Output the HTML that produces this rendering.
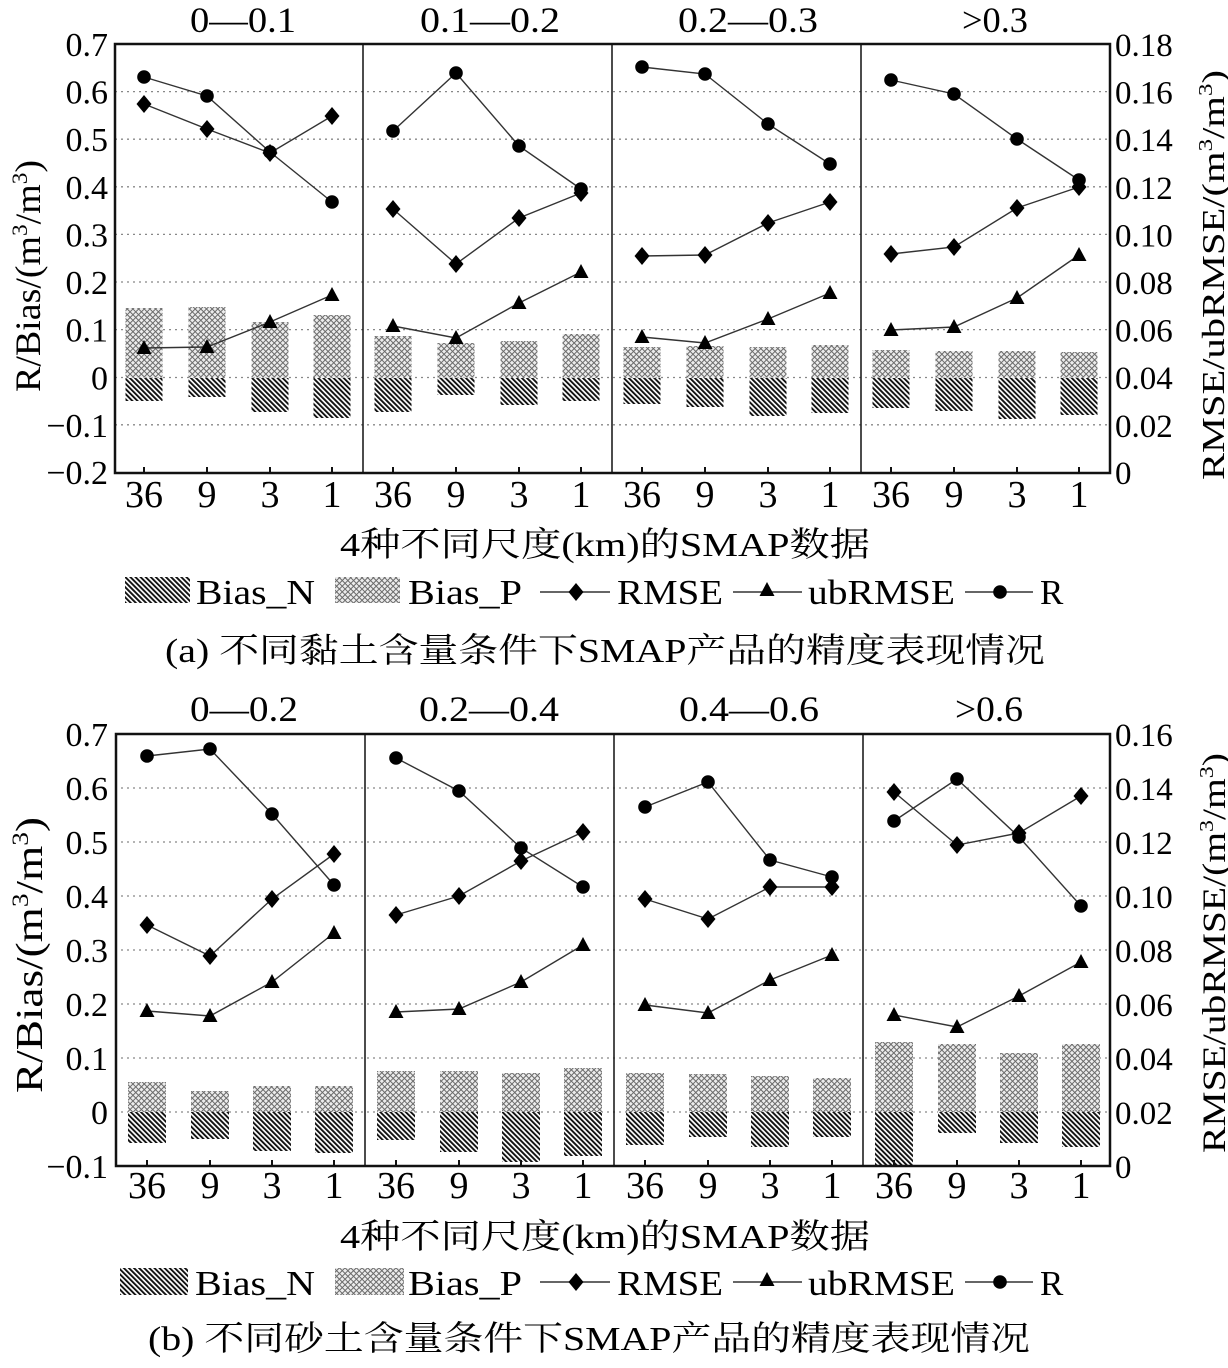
<!DOCTYPE html>
<html><head><meta charset="utf-8"><style>
html,body{margin:0;padding:0;background:#fff;}
svg{display:block;font-family:"Liberation Serif","Noto Serif CJK SC",serif;}
</style></head><body>
<svg width="1228" height="1368" viewBox="0 0 1228 1368" xmlns="http://www.w3.org/2000/svg">
<defs>
<pattern id="pn" width="3.6" height="3.6" patternUnits="userSpaceOnUse" patternTransform="rotate(-45)"><rect width="3.6" height="3.6" fill="#fff"/><rect width="1.9" height="3.6" fill="#111"/></pattern>
<pattern id="pp" width="4" height="4" patternUnits="userSpaceOnUse" patternTransform="rotate(45)"><rect width="4" height="4" fill="#ececec"/><path d="M0,0.5H4M0.5,0V4" stroke="#6a6a6a" stroke-width="1"/></pattern>
<path id="d" d="M0,-9 L7.5,0 L0,9 L-7.5,0Z"/>
<path id="t" d="M0,-8 L7.5,6 L-7.5,6Z"/>
<circle id="c" r="6.8"/>
</defs>

<!-- ================= TOP CHART ================= -->
<g font-size="36" text-anchor="middle">
<text x="243" y="32" textLength="106" lengthAdjust="spacingAndGlyphs">0—0.1</text>
<text x="490" y="32" textLength="140" lengthAdjust="spacingAndGlyphs">0.1—0.2</text>
<text x="748" y="32" textLength="140" lengthAdjust="spacingAndGlyphs">0.2—0.3</text>
<text x="995" y="32" textLength="66" lengthAdjust="spacingAndGlyphs">&gt;0.3</text>
</g>
<g stroke="#888" stroke-width="1.3" stroke-dasharray="2,4">
<line x1="115" x2="1110" y1="91.6" y2="91.6"/><line x1="115" x2="1110" y1="139.2" y2="139.2"/>
<line x1="115" x2="1110" y1="186.8" y2="186.8"/><line x1="115" x2="1110" y1="234.4" y2="234.4"/>
<line x1="115" x2="1110" y1="282" y2="282"/><line x1="115" x2="1110" y1="329.6" y2="329.6"/>
<line x1="115" x2="1110" y1="377.5" y2="377.5"/><line x1="115" x2="1110" y1="424.8" y2="424.8"/>
</g>
<g fill="url(#pp)">
<rect x="125.5" y="308" width="37" height="69.5"/><rect x="188.5" y="307" width="37" height="70.5"/><rect x="251.5" y="322" width="37" height="55.5"/><rect x="313.5" y="315" width="37" height="62.5"/>
<rect x="374.5" y="336" width="37" height="41.5"/><rect x="437.5" y="343" width="37" height="34.5"/><rect x="500.5" y="341" width="37" height="36.5"/><rect x="562.5" y="334" width="37" height="43.5"/>
<rect x="623.5" y="347" width="37" height="30.5"/><rect x="686.5" y="346" width="37" height="31.5"/><rect x="749.5" y="347" width="37" height="30.5"/><rect x="811.5" y="345" width="37" height="32.5"/>
<rect x="872.5" y="350" width="37" height="27.5"/><rect x="935.5" y="351" width="37" height="26.5"/><rect x="998.5" y="351" width="37" height="26.5"/><rect x="1060.5" y="352" width="37" height="25.5"/>
</g>
<g fill="url(#pn)">
<rect x="125.5" y="378" width="37" height="23"/><rect x="188.5" y="378" width="37" height="19"/><rect x="251.5" y="378" width="37" height="34"/><rect x="313.5" y="378" width="37" height="40"/>
<rect x="374.5" y="378" width="37" height="34"/><rect x="437.5" y="378" width="37" height="17"/><rect x="500.5" y="378" width="37" height="27"/><rect x="562.5" y="378" width="37" height="23"/>
<rect x="623.5" y="378" width="37" height="26"/><rect x="686.5" y="378" width="37" height="29"/><rect x="749.5" y="378" width="37" height="38"/><rect x="811.5" y="378" width="37" height="35"/>
<rect x="872.5" y="378" width="37" height="30"/><rect x="935.5" y="378" width="37" height="33"/><rect x="998.5" y="378" width="37" height="41"/><rect x="1060.5" y="378" width="37" height="37"/>
</g>
<g fill="none" stroke="#333" stroke-width="1.4">
<polyline points="144,77 207,96 270,152 332,202"/><polyline points="144,104 207,129 270,153 332,116"/><polyline points="144,348 207,347 270,322 332,295"/>
<polyline points="393,131 456,73 519,146 581,189"/><polyline points="393,209 456,264 519,218 581,193"/><polyline points="393,326 456,338 519,303 581,272"/>
<polyline points="642,67 705,74 768,124 830,164"/><polyline points="642,256 705,255 768,223 830,202"/><polyline points="642,337 705,343 768,319 830,293"/>
<polyline points="891,80 954,94 1017,139 1079,180"/><polyline points="891,254 954,247 1017,208 1079,187"/><polyline points="891,330 954,327 1017,298 1079,255"/>
</g>
<g fill="#000">
<use href="#c" x="144" y="77"/><use href="#c" x="207" y="96"/><use href="#c" x="270" y="152"/><use href="#c" x="332" y="202"/>
<use href="#d" x="144" y="104"/><use href="#d" x="207" y="129"/><use href="#d" x="270" y="153"/><use href="#d" x="332" y="116"/>
<use href="#t" x="144" y="348"/><use href="#t" x="207" y="347"/><use href="#t" x="270" y="322"/><use href="#t" x="332" y="295"/>
<use href="#c" x="393" y="131"/><use href="#c" x="456" y="73"/><use href="#c" x="519" y="146"/><use href="#c" x="581" y="189"/>
<use href="#d" x="393" y="209"/><use href="#d" x="456" y="264"/><use href="#d" x="519" y="218"/><use href="#d" x="581" y="193"/>
<use href="#t" x="393" y="326"/><use href="#t" x="456" y="338"/><use href="#t" x="519" y="303"/><use href="#t" x="581" y="272"/>
<use href="#c" x="642" y="67"/><use href="#c" x="705" y="74"/><use href="#c" x="768" y="124"/><use href="#c" x="830" y="164"/>
<use href="#d" x="642" y="256"/><use href="#d" x="705" y="255"/><use href="#d" x="768" y="223"/><use href="#d" x="830" y="202"/>
<use href="#t" x="642" y="337"/><use href="#t" x="705" y="343"/><use href="#t" x="768" y="319"/><use href="#t" x="830" y="293"/>
<use href="#c" x="891" y="80"/><use href="#c" x="954" y="94"/><use href="#c" x="1017" y="139"/><use href="#c" x="1079" y="180"/>
<use href="#d" x="891" y="254"/><use href="#d" x="954" y="247"/><use href="#d" x="1017" y="208"/><use href="#d" x="1079" y="187"/>
<use href="#t" x="891" y="330"/><use href="#t" x="954" y="327"/><use href="#t" x="1017" y="298"/><use href="#t" x="1079" y="255"/>
</g>
<rect x="115" y="44" width="995" height="429" fill="none" stroke="#111" stroke-width="2.5"/>
<g stroke="#111" stroke-width="1.5"><line x1="363" x2="363" y1="44" y2="473"/><line x1="612" x2="612" y1="44" y2="473"/><line x1="861" x2="861" y1="44" y2="473"/></g>
<g stroke="#111" stroke-width="2">
<line x1="144" x2="144" y1="473" y2="467"/><line x1="207" x2="207" y1="473" y2="467"/><line x1="270" x2="270" y1="473" y2="467"/><line x1="332" x2="332" y1="473" y2="467"/>
<line x1="393" x2="393" y1="473" y2="467"/><line x1="456" x2="456" y1="473" y2="467"/><line x1="519" x2="519" y1="473" y2="467"/><line x1="581" x2="581" y1="473" y2="467"/>
<line x1="642" x2="642" y1="473" y2="467"/><line x1="705" x2="705" y1="473" y2="467"/><line x1="768" x2="768" y1="473" y2="467"/><line x1="830" x2="830" y1="473" y2="467"/>
<line x1="891" x2="891" y1="473" y2="467"/><line x1="954" x2="954" y1="473" y2="467"/><line x1="1017" x2="1017" y1="473" y2="467"/><line x1="1079" x2="1079" y1="473" y2="467"/>
</g>
<g font-size="34" text-anchor="end">
<text x="108" y="56">0.7</text><text x="108" y="103.6">0.6</text><text x="108" y="151.2">0.5</text><text x="108" y="198.8">0.4</text>
<text x="108" y="246.4">0.3</text><text x="108" y="294">0.2</text><text x="108" y="341.6">0.1</text><text x="108" y="389.5">0</text>
<text x="108" y="436.8">−0.1</text><text x="108" y="484">−0.2</text>
</g>
<g font-size="33" text-anchor="start">
<text x="1115" y="56">0.18</text><text x="1115" y="103.6">0.16</text><text x="1115" y="151.2">0.14</text><text x="1115" y="198.8">0.12</text>
<text x="1115" y="246.4">0.10</text><text x="1115" y="294">0.08</text><text x="1115" y="341.6">0.06</text><text x="1115" y="389.2">0.04</text>
<text x="1115" y="436.8">0.02</text><text x="1115" y="484">0</text>
</g>
<text transform="translate(40,276) rotate(-90)" font-size="36" text-anchor="middle" textLength="232" lengthAdjust="spacingAndGlyphs">R/Bias/(m<tspan font-size="22" dy="-13">3</tspan><tspan dy="13">/m</tspan><tspan font-size="22" dy="-13">3</tspan><tspan dy="13">)</tspan></text>
<text transform="translate(1224,275) rotate(-90)" font-size="32" text-anchor="middle" textLength="410" lengthAdjust="spacingAndGlyphs">RMSE/ubRMSE/(m<tspan font-size="20" dy="-12">3</tspan><tspan dy="12">/m</tspan><tspan font-size="20" dy="-12">3</tspan><tspan dy="12">)</tspan></text>
<g font-size="38" text-anchor="middle">
<text x="144" y="507">36</text><text x="207" y="507">9</text><text x="270" y="507">3</text><text x="332" y="507">1</text>
<text x="393" y="507">36</text><text x="456" y="507">9</text><text x="519" y="507">3</text><text x="581" y="507">1</text>
<text x="642" y="507">36</text><text x="705" y="507">9</text><text x="768" y="507">3</text><text x="830" y="507">1</text>
<text x="891" y="507">36</text><text x="954" y="507">9</text><text x="1017" y="507">3</text><text x="1079" y="507">1</text>
</g>
<text x="340" y="556" font-size="34" textLength="530" lengthAdjust="spacingAndGlyphs">4种不同尺度(km)的SMAP数据</text>
<rect x="125" y="577" width="65" height="26" fill="url(#pn)"/>
<rect x="335" y="577" width="65" height="26" fill="url(#pp)"/>
<g font-size="35">
<text x="196" y="604" textLength="119" lengthAdjust="spacingAndGlyphs">Bias_N</text>
<text x="408" y="604" textLength="114" lengthAdjust="spacingAndGlyphs">Bias_P</text>
<text x="617" y="604" textLength="106" lengthAdjust="spacingAndGlyphs">RMSE</text>
<text x="808" y="604" textLength="147" lengthAdjust="spacingAndGlyphs">ubRMSE</text>
<text x="1040" y="604">R</text>
</g>
<g stroke="#333" stroke-width="1.4"><line x1="540" x2="610" y1="592" y2="592"/><line x1="733" x2="802" y1="592" y2="592"/><line x1="965" x2="1033" y1="592" y2="592"/></g>
<use href="#d" x="576" y="592"/><use href="#t" x="767" y="590"/><use href="#c" x="1000" y="592"/>
<text x="165" y="662" font-size="34" textLength="880" lengthAdjust="spacingAndGlyphs">(a) 不同黏土含量条件下SMAP产品的精度表现情况</text>

<!-- ================= BOTTOM CHART ================= -->
<g font-size="36" text-anchor="middle">
<text x="244" y="721" textLength="108" lengthAdjust="spacingAndGlyphs">0—0.2</text>
<text x="489" y="721" textLength="140" lengthAdjust="spacingAndGlyphs">0.2—0.4</text>
<text x="749" y="721" textLength="140" lengthAdjust="spacingAndGlyphs">0.4—0.6</text>
<text x="989" y="721" textLength="68" lengthAdjust="spacingAndGlyphs">&gt;0.6</text>
</g>
<g stroke="#888" stroke-width="1.3" stroke-dasharray="2,4">
<line x1="115" x2="1110" y1="788" y2="788"/><line x1="115" x2="1110" y1="842" y2="842"/><line x1="115" x2="1110" y1="896" y2="896"/>
<line x1="115" x2="1110" y1="950" y2="950"/><line x1="115" x2="1110" y1="1004" y2="1004"/><line x1="115" x2="1110" y1="1058" y2="1058"/>
<line x1="115" x2="1110" y1="1112" y2="1112"/>
</g>
<g fill="url(#pp)">
<rect x="128" y="1082" width="38" height="30"/><rect x="191" y="1091" width="38" height="21"/><rect x="253" y="1086" width="38" height="26"/><rect x="315" y="1086" width="38" height="26"/>
<rect x="377" y="1071" width="38" height="41"/><rect x="440" y="1071" width="38" height="41"/><rect x="502" y="1073" width="38" height="39"/><rect x="564" y="1068" width="38" height="44"/>
<rect x="626" y="1073" width="38" height="39"/><rect x="689" y="1074" width="38" height="38"/><rect x="751" y="1076" width="38" height="36"/><rect x="813" y="1078" width="38" height="34"/>
<rect x="875" y="1042" width="38" height="70"/><rect x="938" y="1044" width="38" height="68"/><rect x="1000" y="1053" width="38" height="59"/><rect x="1062" y="1044" width="38" height="68"/>
</g>
<g fill="url(#pn)">
<rect x="128" y="1112" width="38" height="31"/><rect x="191" y="1112" width="38" height="27"/><rect x="253" y="1112" width="38" height="39"/><rect x="315" y="1112" width="38" height="41"/>
<rect x="377" y="1112" width="38" height="28"/><rect x="440" y="1112" width="38" height="40"/><rect x="502" y="1112" width="38" height="50"/><rect x="564" y="1112" width="38" height="44"/>
<rect x="626" y="1112" width="38" height="33"/><rect x="689" y="1112" width="38" height="25"/><rect x="751" y="1112" width="38" height="35"/><rect x="813" y="1112" width="38" height="25"/>
<rect x="875" y="1112" width="38" height="54"/><rect x="938" y="1112" width="38" height="21"/><rect x="1000" y="1112" width="38" height="31"/><rect x="1062" y="1112" width="38" height="35"/>
</g>
<g fill="none" stroke="#333" stroke-width="1.4">
<polyline points="147,756 210,749 272,814 334,885"/><polyline points="147,925 210,956 272,899 334,854"/><polyline points="147,1011 210,1016 272,982 334,933"/>
<polyline points="396,758 459,791 521,848 583,887"/><polyline points="396,915 459,896 521,861 583,832"/><polyline points="396,1012 459,1009 521,982 583,945"/>
<polyline points="645,807 708,782 770,860 832,877"/><polyline points="645,899 708,919 770,887 832,887"/><polyline points="645,1005 708,1013 770,980 832,955"/>
<polyline points="894,821 957,779 1019,837 1081,906"/><polyline points="894,792 957,845 1019,833 1081,796"/><polyline points="894,1015 957,1027 1019,996 1081,962"/>
</g>
<g fill="#000">
<use href="#c" x="147" y="756"/><use href="#c" x="210" y="749"/><use href="#c" x="272" y="814"/><use href="#c" x="334" y="885"/>
<use href="#d" x="147" y="925"/><use href="#d" x="210" y="956"/><use href="#d" x="272" y="899"/><use href="#d" x="334" y="854"/>
<use href="#t" x="147" y="1011"/><use href="#t" x="210" y="1016"/><use href="#t" x="272" y="982"/><use href="#t" x="334" y="933"/>
<use href="#c" x="396" y="758"/><use href="#c" x="459" y="791"/><use href="#c" x="521" y="848"/><use href="#c" x="583" y="887"/>
<use href="#d" x="396" y="915"/><use href="#d" x="459" y="896"/><use href="#d" x="521" y="861"/><use href="#d" x="583" y="832"/>
<use href="#t" x="396" y="1012"/><use href="#t" x="459" y="1009"/><use href="#t" x="521" y="982"/><use href="#t" x="583" y="945"/>
<use href="#c" x="645" y="807"/><use href="#c" x="708" y="782"/><use href="#c" x="770" y="860"/><use href="#c" x="832" y="877"/>
<use href="#d" x="645" y="899"/><use href="#d" x="708" y="919"/><use href="#d" x="770" y="887"/><use href="#d" x="832" y="887"/>
<use href="#t" x="645" y="1005"/><use href="#t" x="708" y="1013"/><use href="#t" x="770" y="980"/><use href="#t" x="832" y="955"/>
<use href="#c" x="894" y="821"/><use href="#c" x="957" y="779"/><use href="#c" x="1019" y="837"/><use href="#c" x="1081" y="906"/>
<use href="#d" x="894" y="792"/><use href="#d" x="957" y="845"/><use href="#d" x="1019" y="833"/><use href="#d" x="1081" y="796"/>
<use href="#t" x="894" y="1015"/><use href="#t" x="957" y="1027"/><use href="#t" x="1019" y="996"/><use href="#t" x="1081" y="962"/>
</g>
<rect x="116" y="734" width="994" height="432" fill="none" stroke="#111" stroke-width="2.5"/>
<g stroke="#111" stroke-width="1.5"><line x1="365" x2="365" y1="734" y2="1166"/><line x1="614" x2="614" y1="734" y2="1166"/><line x1="863" x2="863" y1="734" y2="1166"/></g>
<g stroke="#111" stroke-width="2">
<line x1="147" x2="147" y1="1166" y2="1160"/><line x1="210" x2="210" y1="1166" y2="1160"/><line x1="272" x2="272" y1="1166" y2="1160"/><line x1="334" x2="334" y1="1166" y2="1160"/>
<line x1="396" x2="396" y1="1166" y2="1160"/><line x1="459" x2="459" y1="1166" y2="1160"/><line x1="521" x2="521" y1="1166" y2="1160"/><line x1="583" x2="583" y1="1166" y2="1160"/>
<line x1="645" x2="645" y1="1166" y2="1160"/><line x1="708" x2="708" y1="1166" y2="1160"/><line x1="770" x2="770" y1="1166" y2="1160"/><line x1="832" x2="832" y1="1166" y2="1160"/>
<line x1="894" x2="894" y1="1166" y2="1160"/><line x1="957" x2="957" y1="1166" y2="1160"/><line x1="1019" x2="1019" y1="1166" y2="1160"/><line x1="1081" x2="1081" y1="1166" y2="1160"/>
</g>
<g font-size="34" text-anchor="end">
<text x="108" y="746">0.7</text><text x="108" y="800">0.6</text><text x="108" y="854">0.5</text><text x="108" y="908">0.4</text>
<text x="108" y="962">0.3</text><text x="108" y="1016">0.2</text><text x="108" y="1070">0.1</text><text x="108" y="1124">0</text>
<text x="108" y="1178">−0.1</text>
</g>
<g font-size="33" text-anchor="start">
<text x="1115" y="746">0.16</text><text x="1115" y="800">0.14</text><text x="1115" y="854">0.12</text><text x="1115" y="908">0.10</text>
<text x="1115" y="962">0.08</text><text x="1115" y="1016">0.06</text><text x="1115" y="1070">0.04</text><text x="1115" y="1124">0.02</text>
<text x="1115" y="1178">0</text>
</g>
<text transform="translate(42,955) rotate(-90)" font-size="38" text-anchor="middle" textLength="276" lengthAdjust="spacingAndGlyphs">R/Bias/(m<tspan font-size="23" dy="-14">3</tspan><tspan dy="14">/m</tspan><tspan font-size="23" dy="-14">3</tspan><tspan dy="14">)</tspan></text>
<text transform="translate(1225,953) rotate(-90)" font-size="33" text-anchor="middle" textLength="400" lengthAdjust="spacingAndGlyphs">RMSE/ubRMSE/(m<tspan font-size="20" dy="-12">3</tspan><tspan dy="12">/m</tspan><tspan font-size="20" dy="-12">3</tspan><tspan dy="12">)</tspan></text>
<g font-size="38" text-anchor="middle">
<text x="147" y="1198">36</text><text x="210" y="1198">9</text><text x="272" y="1198">3</text><text x="334" y="1198">1</text>
<text x="396" y="1198">36</text><text x="459" y="1198">9</text><text x="521" y="1198">3</text><text x="583" y="1198">1</text>
<text x="645" y="1198">36</text><text x="708" y="1198">9</text><text x="770" y="1198">3</text><text x="832" y="1198">1</text>
<text x="894" y="1198">36</text><text x="957" y="1198">9</text><text x="1019" y="1198">3</text><text x="1081" y="1198">1</text>
</g>
<text x="340" y="1248" font-size="34" textLength="530" lengthAdjust="spacingAndGlyphs">4种不同尺度(km)的SMAP数据</text>
<rect x="120" y="1268" width="68" height="27" fill="url(#pn)"/>
<rect x="335" y="1268" width="69" height="27" fill="url(#pp)"/>
<g font-size="35">
<text x="195" y="1295" textLength="120" lengthAdjust="spacingAndGlyphs">Bias_N</text>
<text x="408" y="1295" textLength="114" lengthAdjust="spacingAndGlyphs">Bias_P</text>
<text x="617" y="1295" textLength="106" lengthAdjust="spacingAndGlyphs">RMSE</text>
<text x="808" y="1295" textLength="147" lengthAdjust="spacingAndGlyphs">ubRMSE</text>
<text x="1040" y="1295">R</text>
</g>
<g stroke="#333" stroke-width="1.4"><line x1="540" x2="610" y1="1282" y2="1282"/><line x1="733" x2="802" y1="1282" y2="1282"/><line x1="965" x2="1033" y1="1282" y2="1282"/></g>
<use href="#d" x="576" y="1282"/><use href="#t" x="767" y="1280"/><use href="#c" x="1000" y="1282"/>
<text x="148" y="1350" font-size="34" textLength="882" lengthAdjust="spacingAndGlyphs">(b) 不同砂土含量条件下SMAP产品的精度表现情况</text>
</svg>
</body></html>
